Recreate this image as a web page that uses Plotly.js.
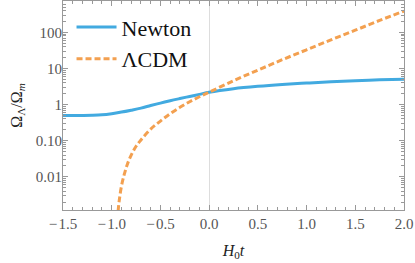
<!DOCTYPE html>
<html><head><meta charset="utf-8">
<script src="https://cdn.plot.ly/plotly-3.0.1.min.js"></script>
<style>html,body{margin:0;padding:0;background:#fff}#c{width:415px;height:263px}</style>
</head><body><div id="c"></div>
<script>
const newtonX = [-1.5,-1.4,-1.3,-1.2,-1.1,-1.0,-0.9,-0.8,-0.7,-0.6,-0.5,-0.4,-0.3,-0.2,-0.1,0,0.25,0.5,0.75,1.0,1.25,1.5,1.75,2.0];
const newtonY = [0.50,0.50,0.50,0.505,0.52,0.56,0.62,0.70,0.80,0.94,1.10,1.28,1.47,1.68,1.92,2.2,2.75,3.2,3.6,3.95,4.3,4.6,4.85,5.05];
const lcdmX = [-0.95,-0.94,-0.93,-0.92,-0.9,-0.87,-0.84,-0.8,-0.75,-0.7,-0.6,-0.5,-0.4,-0.3,-0.2,-0.1,0,0.25,0.5,0.75,1.0,1.25,1.5,1.75,2.0];
const lcdmY = [0.0002,0.0007,0.0015,0.0025,0.0055,0.012,0.022,0.040,0.070,0.105,0.21,0.35,0.56,0.84,1.2,1.65,2.2,4.6,9.0,17.5,33,62,115,215,390];
const yTickVals = [0.01,0.1,1,10,100];
const yTickText = ["0.01","0.10","1","10","100"];
const xTickVals = [-1.5,-1.0,-0.5,0,0.5,1.0,1.5,2.0];
const xTickText = ["\u2212\u200A1.5","\u2212\u200A1.0","\u2212\u200A0.5","0.0","0.5","1.0","1.5","2.0"];

const serif = "Liberation Serif";
const traces = [
  {x:newtonX, y:newtonY, mode:'lines', name:'Newton', line:{color:'rgb(66,170,224)', width:3, shape:'spline', smoothing:1}},
  {x:lcdmX, y:lcdmY, mode:'lines', name:'\u039BCDM', line:{color:'rgb(243,160,80)', width:3, dash:'6px,3px', shape:'spline', smoothing:1}}
];
const axCommon = {showline:true, linecolor:'#999', linewidth:1, mirror:'ticks', ticks:'inside', ticklen:5, tickcolor:'#999',
  tickfont:{family:serif, size:15, color:'#555'}, showgrid:false};
const layout = {
  width:415, height:263, margin:{l:63, r:11, t:1, b:53},
  paper_bgcolor:'#fff', plot_bgcolor:'#fff',
  font:{family:serif},
  xaxis: Object.assign({}, axCommon, {range:[-1.5,2.0], tickvals:xTickVals, ticktext:xTickText,
    zeroline:true, zerolinecolor:'#ddd', zerolinewidth:1,
    minor:{ticks:'inside', ticklen:3, tickcolor:'#999', dtick:0.1},
    title:{text:'<i>H</i><sub>0</sub><i>t</i>', font:{family:serif, size:16, color:'#222'}, standoff:13}}),
  yaxis: Object.assign({}, axCommon, {type:'log', range:[-2.92,2.87], tickvals:yTickVals, ticktext:yTickText,
    zeroline:false, ticklabelstandoff:-3,
    minor:{ticks:'inside', ticklen:3, tickcolor:'#999', dtick:'D1'},
    title:{text:'\u03A9<sub>\u039B</sub>/\u03A9<sub><i>m</i></sub>', font:{family:serif, size:16, color:'#222'}, standoff:9}}),
  showlegend:true,
  legend:{x:0.025, y:0.975, xanchor:'left', yanchor:'top', bgcolor:'rgba(0,0,0,0)', borderwidth:0,
    font:{family:serif, size:22, color:'#111'}, tracegroupgap:0, itemwidth:40}
};
Plotly.newPlot('c', traces, layout, {staticPlot:true, displayModeBar:false});
</script></body></html>
